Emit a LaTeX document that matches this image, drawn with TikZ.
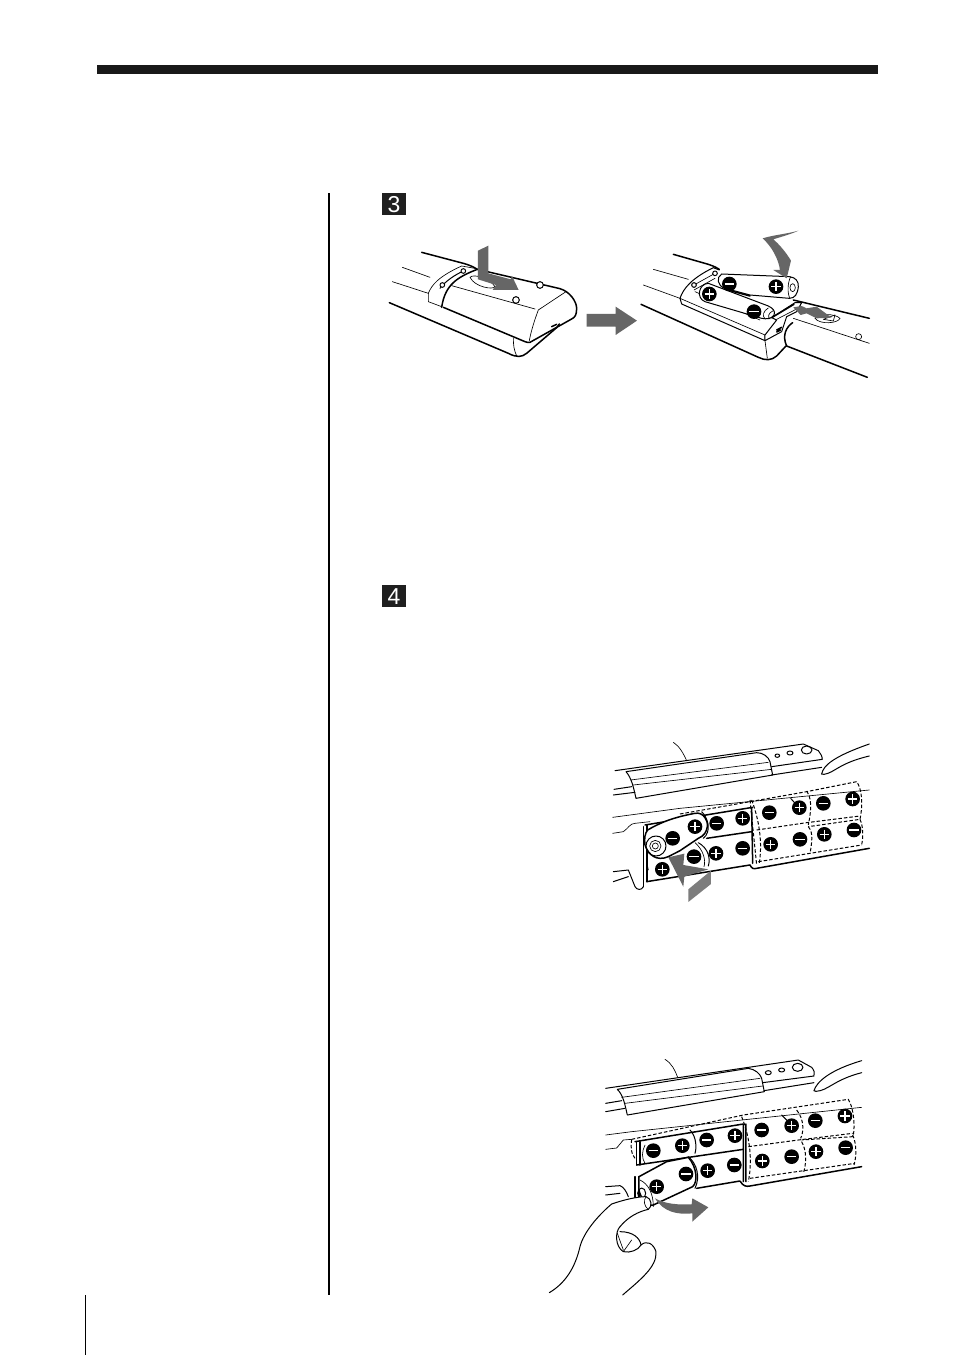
\documentclass[tikz,border=0pt]{standalone}
\usepackage{fontspec}
\setmainfont{Liberation Sans}
\tikzset{
 thk/.style={line width=1.5pt,line join=round,line cap=round},
 thn/.style={line width=.65pt,line join=round,line cap=round},
 med/.style={line width=1pt,line join=round,line cap=round},
 dsh/.style={line width=1pt,dash pattern=on 3.5pt off 2pt},
 gar/.style={fill=arrowgrey,draw=none},
 badge/.style={fill=black!88,text=white,font=\fontsize{23}{23}\selectfont,minimum width=24pt,minimum height=22pt,inner sep=0pt,text height=16pt,text depth=0pt},
 z3/.style={shift={(380pt,-190pt)},x=.3333pt,y=-.3333pt},
 z2/.style={shift={(630pt,-220pt)},x=.3333pt,y=-.3333pt},
 zc/.style={shift={(600pt,-730pt)},x=.3333pt,y=-.3333pt},
 zd/.style={shift={(540pt,-1050pt)},x=.3333pt,y=-.3333pt},
}
\definecolor{arrowgrey}{gray}{.40}
\newcommand{\pl}[2]{\fill (#1,#2) circle[radius=22];\draw[white,line width=1.4pt] (#1-14,#2)--(#1+14,#2) (#1,#2-14)--(#1,#2+14);}
\newcommand{\mn}[2]{\fill (#1,#2) circle[radius=22];\draw[white,line width=1.4pt] (#1-14,#2)--(#1+14,#2);}
\begin{document}
\begin{tikzpicture}[x=1pt,y=-1pt]
\useasboundingbox (0,0) rectangle (954,1355);
\fill[white] (0,0) rectangle (954,1355);
\fill[black!90] (97,65) rectangle (878,73.5);
\draw[line width=1.2pt] (329,193)--(329,1295);
\draw[line width=1.2pt] (85.5,1295)--(85.5,1355);
\node[badge] (b3) at (394,204) {3};
\node[badge] (b4) at (394,596) {4};

%%% panel 3 left
\begin{scope}[z3]
\draw[thk] (125,187)--(250,220) .. controls (265,224) and (280,230) .. (292,238);
\draw[thk] (292,238)--(540,296) .. controls (570,305) and (590,335) .. (590,355) .. controls (590,375) and (585,382) .. (575,387) -- (450,457) .. controls (445,458) and (440,457) .. (435,455) -- (190,352);
\draw[thk] (292,238) .. controls (230,262) and (195,285) .. (185,352);
\draw[thk] (28,338)--(385,490) .. controls (410,503) and (425,502) .. (440,490) -- (530,413) -- (538,402);
\draw[thk] (515,410)--(530,403);
\draw[thn] (67,232)--(150,262) (37,275)--(145,310) (215,287)--(465,357);
\draw[thn] (558,305)--(475,360) .. controls (462,395) and (453,425) .. (448,452);
\draw[thn] (400,445) .. controls (400,465) and (402,480) .. (410,498);
\draw[thn] (145,310) .. controls (155,285) and (175,260) .. (245,228) (245,228)--(290,236);
\draw[thn] (145,310)--(145,335)--(185,350);
\draw[med] (180,295) .. controls (200,270) and (225,255) .. (250,243);
\draw[med,fill=white] (187,285) circle[radius=7] (250,243) circle[radius=7];
\draw[med] (408,330) circle[radius=10];
\draw[med,fill=white] (480,285) circle[radius=10];
\draw[thn] (270,262) .. controls (280,250) and (330,265) .. (345,290) .. controls (340,300) and (285,292) .. (270,262);
\fill[gar] (294,182)--(325,167)--(325,250)--(392,268)--(396,258)--(416,300)--(338,300)--(348,285)--(294,268)--cycle;
\fill[gar] (620,372)--(707,372)--(707,350)--(771,392)--(707,435)--(707,410)--(620,410)--cycle;
\end{scope}

%%% panel 3 right
\begin{scope}[z2]
\draw[thk] (130,103)--(235,133) .. controls (245,136) and (255,140) .. (268,148);
\draw[thk] (490,240)--(718,295);
\draw[thk] (33,253)--(385,412) .. controls (405,422) and (425,422) .. (440,408) -- (468,378);
\draw[thk] (470,378)--(712,472);
\draw[thn] (70,148)--(175,178) (40,195)--(150,235) (490,295)--(718,370);
% compartment
\draw[med] (150,235) .. controls (160,205) and (185,175) .. (250,143)--(268,150);
\draw[med] (150,235)--(155,252)--(405,362);
\draw[thn] (150,235)--(405,345)--(405,362)--(412,415);
\draw[thn] (192,195)--(255,160) (192,210)--(255,175);
\draw[med,fill=white] (192,195) circle[radius=7] (255,160) circle[radius=7];
\draw[thn] (195,215)--(390,300);
% batteries
\draw[med,fill=white] (275,162)--(478,170) .. controls (498,172) and (506,185) .. (505,200) .. controls (503,222) and (495,235) .. (478,235) -- (360,225) -- (285,205) .. controls (262,198) and (258,172) .. (275,162)--cycle;
\draw[thn] (482,170) .. controls (472,190) and (472,222) .. (480,235);
\draw[thn] (488,203) ellipse[x radius=8,y radius=12];
\draw[thk] (282,207)--(360,228);
\draw[med,fill=white] (235,190)--(415,258) .. controls (430,265) and (437,275) .. (432,285) .. controls (425,297) and (410,298) .. (395,295) -- (225,245) .. controls (198,235) and (205,192) .. (235,190)--cycle;
\draw[thn] (415,264) .. controls (400,272) and (396,288) .. (405,297);
\draw[thn] (430,272) .. controls (415,278) and (412,292) .. (420,297);
\pl{438}{200}\mn{298}{192}\pl{238}{222}\mn{372}{275}
% cover
\draw[med,fill=white] (425,293)--(495,248)--(515,248)--(500,275)--(470,290)--(455,335)--(405,362)--(405,345)--(440,300)--cycle;
\draw[thk] (425,293)--(492,253);
\draw[thn] (440,298)--(498,268);
\draw[thk] (440,330)--(455,322) (440,336)--(452,330);
\draw[thk] (488,308) .. controls (470,320) and (455,345) .. (470,378);
\draw[thn] (555,295) .. controls (565,280) and (615,280) .. (630,295) .. controls (625,310) and (570,315) .. (555,295);
\draw[thn] (580,298)--(615,285)--(610,303)--cycle;
\draw[thn] (686,350) circle[radius=9];
\fill[gar] (398,55) .. controls (430,45) and (470,42) .. (505,32) .. controls (485,42) and (455,50) .. (430,58) .. controls (450,75) and (470,100) .. (483,122) -- (470,175) -- (430,150) -- (450,150) .. controls (445,115) and (425,80) .. (398,55)--cycle;
\fill[gar] (490,262)--(515,258)--(530,265)--(560,260)--(605,293)--(560,295)--(530,280)--(512,285)--cycle;
\end{scope}

%%% panel 4 upper
\begin{scope}[zc]
\draw[thn] (220,37) .. controls (238,48) and (250,70) .. (260,92);
\draw[med] (45,122)--(610,42)--(655,62) .. controls (662,70) and (667,80) .. (667,88)--(515,110);
\draw[med] (42,178)--(95,170) (40,195)--(105,187);
\draw[med] (515,135)--(665,112);
\draw[med] (78,125)--(470,68) .. controls (490,68) and (505,80) .. (510,95) -- (518,135) -- (108,205) .. controls (100,170) and (95,145) .. (78,125)--cycle;
\draw[thn] (92,150)--(505,97) (100,165)--(515,118);
\draw[med] (532,77) ellipse[x radius=7,y radius=5] (570,69) ellipse[x radius=9,y radius=6];
\draw[med] (620,60) ellipse[x radius=16,y radius=12];
\draw[med] (665,132) .. controls (670,105) and (705,78) .. (808,42);
\draw[med] (672,133) .. controls (705,128) and (715,100) .. (808,78);
\draw[med] (665,132)--(672,133);
\draw[thn] (38,262)--(240,235) (240,235)--(808,180);
\draw[thn] (38,310)--(70,305) .. controls (85,295) and (90,280) .. (105,280)--(150,275);
\draw[thk] (130,290)--(130,470) (141,285)--(141,455);
\draw[thk] (135,285)--(458,232) (140,455)--(450,405) (455,232)--(458,400) (320,325)--(455,305);
\draw[med] (40,425)--(85,420)--(105,470) .. controls (110,480) and (125,482) .. (130,470);
\draw[med] (40,455)--(85,440);
\draw[thn] (140,395)--(145,420);
% compartments dashed
\draw[dsh] (240,252)--(620,185)--(770,155) .. controls (785,175) and (790,220) .. (780,268) -- (625,290) (450,210)--(470,405) (625,290) .. controls (635,300) and (640,320) .. (630,370);
\draw[dsh] (470,300)--(620,278)--(780,258) (455,210) .. controls (470,250) and (490,320) .. (478,400);
\draw[dsh] (620,183) .. controls (640,210) and (630,260) .. (625,285) (780,268) .. controls (790,290) and (790,320) .. (785,345);
\draw[dsh] (475,395)--(785,345);
\draw[thk] (450,405) .. controls (455,415) and (460,418) .. (470,415)--(808,355);
\draw[med] (572,205)--(590,225);
% batteries
\draw[med] (305,245) .. controls (325,265) and (335,305) .. (310,325);
\draw[med] (295,338) .. controls (325,355) and (332,385) .. (325,408);
\draw[thn] (285,338) .. controls (310,360) and (318,390) .. (312,410);
\draw[thk,fill=white] (143,300) .. controls (180,278) and (220,262) .. (285,250) .. controls (310,245) and (325,272) .. (322,290) .. controls (320,305) and (312,318) .. (295,325) -- (240,362) -- (205,380) .. controls (170,395) and (145,375) .. (135,345) .. controls (132,325) and (135,310) .. (143,300)--cycle;
\draw[med] (168,348) circle[radius=30];
\draw[thn] (166,348) circle[radius=17] (166,348) circle[radius=9];
\pl{285}{290}\mn{218}{325}\mn{350}{280}\pl{428}{265}\pl{187}{418}\mn{282}{380}\pl{348}{370}\mn{428}{355}
\mn{508}{248}\pl{598}{233}\mn{670}{220}\pl{758}{207}\pl{512}{343}\mn{600}{328}\pl{673}{313}\mn{762}{300}
\fill[gar] (205,382)--(253,371)--(250,405)--(325,418)--(253,440)--(250,470)--cycle;
\fill[arrowgrey!85] (265,478)--(333,422)--(333,462)--(265,516)--cycle;
\end{scope}

%%% panel 4 lower
\begin{scope}[zd]
\draw[thn] (375,28) .. controls (395,40) and (405,60) .. (413,82);
\draw[med] (197,115)--(775,30)--(815,52) .. controls (822,60) and (825,68) .. (822,78)--(668,98);
\draw[med] (197,160)--(245,152) (197,185)--(255,175);
\draw[med] (672,122)--(822,98);
\draw[med] (232,118)--(625,55) .. controls (645,58) and (660,70) .. (665,85) -- (673,125) -- (262,195) .. controls (255,165) and (250,135) .. (232,118)--cycle;
\draw[thn] (245,142)--(660,85) (255,160)--(668,108);
\draw[med] (685,68) ellipse[x radius=9,y radius=6] (725,60) ellipse[x radius=9,y radius=6];
\draw[med] (773,52) ellipse[x radius=16,y radius=12];
\draw[med] (822,122) .. controls (830,95) and (870,60) .. (965,32);
\draw[med] (828,124) .. controls (865,122) and (880,90) .. (965,68);
\draw[med] (822,122)--(828,124);
\draw[thn] (197,255)--(275,245) (275,245)--(965,172);
\draw[thn] (197,298)--(230,294)--(250,270)--(275,268);
\draw[dsh] (275,268) .. controls (272,290) and (272,310) .. (285,325);
\draw[dsh] (275,268)--(610,195)--(925,148) .. controls (945,180) and (945,250) .. (938,260) --(785,270);
\draw[dsh] (605,200) .. controls (625,250) and (640,320) .. (625,395);
\draw[dsh] (625,290)--(775,270)--(938,250);
\draw[dsh] (770,180) .. controls (795,210) and (790,250) .. (782,265) (785,275) .. controls (800,300) and (800,340) .. (790,370);
\draw[dsh] (938,255) .. controls (950,280) and (950,320) .. (942,345);
\draw[dsh] (630,385)--(945,340);
\draw[thk] (285,275)--(610,222) (610,222)--(610,395) (618,222)--(618,395);
\draw[thk] (290,275)--(290,345) (300,275)--(300,345);
\draw[thk] (290,345)--(610,298);
\draw[thk] (285,380)--(285,445) (297,380)--(297,440);
\draw[thk] (470,415)--(600,393) (600,393) .. controls (610,410) and (620,410) .. (630,408)--(965,350);
\draw[med] (450,240) .. controls (470,260) and (470,295) .. (465,310);
\draw[thn] (315,285) .. controls (305,305) and (305,325) .. (315,340);
\draw[med] (725,195)--(745,215);
\draw[med] (197,410)--(240,407) .. controls (250,410) and (260,425) .. (265,440);
\draw[med] (197,435)--(240,430);
% raised battery
\draw[med] (445,320) .. controls (470,340) and (482,380) .. (465,415);
\draw[thk,fill=white] (297,380)--(380,335)--(445,322) .. controls (470,350) and (475,395) .. (458,410)--(340,465) .. controls (320,470) and (300,440) .. (297,420)--cycle;
\draw[thn] (300,390) .. controls (325,402) and (340,430) .. (340,470);
\draw[med] (305,430) ellipse[x radius=12,y radius=16];
\pl{427}{287}\mn{340}{302}\mn{500}{270}\pl{585}{257}\pl{350}{410}\mn{438}{372}\pl{503}{362}\mn{583}{345}
\mn{665}{240}\pl{755}{227}\mn{826}{212}\pl{915}{198}\pl{667}{333}\mn{755}{320}\pl{828}{305}\mn{917}{293}
% hand
\draw[med,fill=white] (28,728) .. controls (75,700) and (105,655) .. (120,590) .. controls (130,550) and (170,500) .. (215,462) .. controls (250,450) and (290,440) .. (318,440) .. controls (335,445) and (338,470) .. (325,478) .. controls (295,485) and (265,500) .. (240,530);
\draw[med] (240,530) .. controls (225,545) and (225,590) .. (250,605) .. controls (270,610) and (295,600) .. (303,585) .. controls (300,565) and (280,545) .. (240,545);
\draw[med] (303,585) .. controls (320,570) and (340,580) .. (348,605) .. controls (352,650) and (300,690) .. (248,735);
\draw[thn] (232,550)--(250,600) (250,605)--(275,570) (318,440) .. controls (310,450) and (312,470) .. (325,478);
\fill[gar] (345,445) .. controls (375,462) and (415,465) .. (455,463)--(457,445)--(505,472)--(457,515)--(457,490) .. controls (410,495) and (370,485) .. (345,445)--cycle;
\end{scope}
\end{tikzpicture}
\end{document}
